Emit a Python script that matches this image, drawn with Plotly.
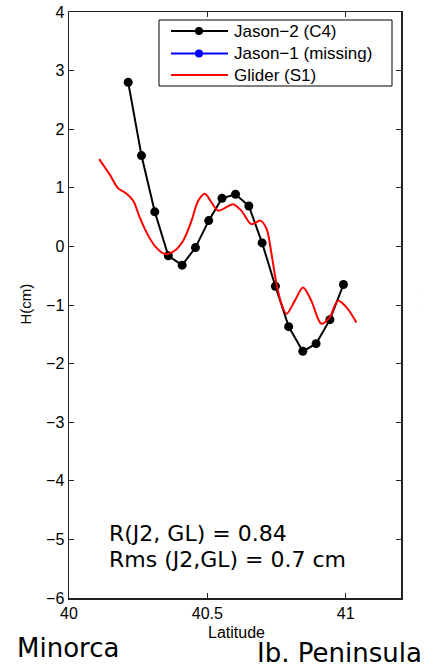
import plotly.graph_objects as go

# Jason-2 (C4) along-track points
j2_lat = [40.214, 40.262, 40.310, 40.359, 40.409, 40.457, 40.505, 40.553, 40.602,
          40.650, 40.698, 40.746, 40.794, 40.845, 40.893, 40.943, 40.992]
j2_h = [2.80, 1.55, 0.59, -0.16, -0.32, -0.02, 0.44, 0.82, 0.89,
        0.69, 0.06, -0.68, -1.37, -1.79, -1.66, -1.25, -0.65]

# Glider (S1) profile
gl_lat = [40.109, 40.148, 40.178, 40.208, 40.232, 40.256, 40.280, 40.310, 40.347,
          40.383, 40.413, 40.443, 40.467, 40.491, 40.515, 40.539, 40.569, 40.593,
          40.623, 40.659, 40.692, 40.714, 40.732, 40.750, 40.768, 40.786, 40.816,
          40.846, 40.876, 40.912, 40.942, 40.972, 41.003, 41.039]
gl_h = [1.49, 1.22, 0.99, 0.90, 0.78, 0.49, 0.24, 0.01, -0.13,
        -0.07, 0.10, 0.44, 0.78, 0.90, 0.75, 0.61, 0.67, 0.72,
        0.61, 0.38, 0.44, 0.30, -0.13, -0.64, -0.98, -1.15, -0.93,
        -0.70, -0.93, -1.32, -1.21, -0.93, -1.04, -1.30]

x_ticks = [40, 40.5, 41]
x_tick_text = ["40", "40.5", "41"]
y_ticks = [-6, -5, -4, -3, -2, -1, 0, 1, 2, 3, 4]

legend_names = ["Jason\u22122 (C4)", "Jason\u22121 (missing)", "Glider (S1)"]
legend_colors = ["#000000", "#0000ff", "#ff0000"]
legend_markers = [True, True, False]

# plot area spans page x 69..401, y 12..598
def px(sx):
    return (sx - 69) / 332.0


def py(sy):
    return (598 - sy) / 586.0


fig = go.Figure()
fig.add_trace(go.Scatter(x=j2_lat, y=j2_h, mode="lines+markers", name=legend_names[0],
                         line=dict(color=legend_colors[0], width=2),
                         marker=dict(color=legend_colors[0], size=9)))
fig.add_trace(go.Scatter(x=[None], y=[None], mode="lines+markers", name=legend_names[1],
                         line=dict(color=legend_colors[1], width=2),
                         marker=dict(color=legend_colors[1], size=9)))
fig.add_trace(go.Scatter(x=gl_lat, y=gl_h, mode="lines", name=legend_names[2],
                         line=dict(color=legend_colors[2], width=2, shape="spline", smoothing=0.9)))

axis_font = dict(family="Liberation Sans, Arial, sans-serif", size=16, color="#000000")
fig.update_xaxes(range=[40, 41.2], tickvals=x_ticks, ticktext=x_tick_text,
                 ticks="inside", ticklen=5, tickcolor="#222222", mirror="allticks",
                 showline=True, linecolor="#222222", linewidth=1.5, automargin=False,
                 showgrid=False, zeroline=False, tickfont=axis_font)
fig.update_yaxes(range=[-6, 4], tickvals=y_ticks,
                 ticks="inside", ticklen=5, tickcolor="#222222", mirror="allticks",
                 showline=True, linecolor="#222222", linewidth=1.5, automargin=False,
                 showgrid=False, zeroline=False, tickfont=axis_font)

txt_font = dict(family="DejaVu Sans, Verdana, sans-serif", color="#000000")
lab_font = dict(family="Liberation Sans, Arial, sans-serif", color="#000000")

# legend drawn as a boxed key (MATLAB style)
shapes = [dict(type="rect", xref="paper", yref="paper", x0=px(159), x1=px(392),
               y0=py(86), y1=py(20), line=dict(color="#000000", width=1),
               fillcolor="#ffffff", layer="above")]
annotations = []
row_y = [31, 53.5, 75]
for name, col, mk, ry in zip(legend_names, legend_colors, legend_markers, row_y):
    shapes.append(dict(type="line", xref="paper", yref="paper", x0=px(171), x1=px(228),
                       y0=py(ry), y1=py(ry), line=dict(color=col, width=2), layer="above"))
    if mk:
        shapes.append(dict(type="circle", xref="paper", yref="paper", x0=px(195), x1=px(203),
                           y0=py(ry + 4), y1=py(ry - 4), line=dict(color=col, width=0),
                           fillcolor=col, layer="above"))
    annotations.append(dict(text=name, xref="paper", yref="paper", x=px(232), y=py(ry),
                            xanchor="left", yanchor="middle", showarrow=False,
                            font=dict(size=17, **lab_font)))

annotations += [
    dict(text="R(J2, GL) = 0.84", xref="paper", yref="paper",
         x=px(107), y=py(533), xanchor="left", yanchor="middle",
         showarrow=False, font=dict(size=22, **txt_font)),
    dict(text="Rms (J2,GL) = 0.7 cm", xref="paper", yref="paper",
         x=px(107), y=py(559), xanchor="left", yanchor="middle",
         showarrow=False, font=dict(size=22, **txt_font)),
    dict(text="Latitude", xref="paper", yref="paper", x=px(236), y=py(633),
         xanchor="center", yanchor="middle", showarrow=False,
         font=dict(size=16, **lab_font)),
    dict(text="H(cm)", xref="paper", yref="paper", x=px(24.5), y=py(304),
         xanchor="center", yanchor="middle", textangle=-90, showarrow=False,
         font=dict(size=15, **lab_font)),
    dict(text="H(cm)", xref="paper", yref="paper", x=px(429), y=py(305),
         xanchor="center", yanchor="middle", textangle=-90, showarrow=False,
         font=dict(size=15, **lab_font)),
    dict(text="Minorca", xref="paper", yref="paper", x=px(15), y=py(648),
         xanchor="left", yanchor="middle", showarrow=False,
         font=dict(size=26, **txt_font)),
    dict(text="Ib. Peninsula", xref="paper", yref="paper", x=px(255), y=py(653),
         xanchor="left", yanchor="middle", showarrow=False,
         font=dict(size=26, **txt_font)),
]

fig.update_layout(
    width=424, height=664,
    margin=dict(l=69, r=23, t=12, b=66, autoexpand=False),
    paper_bgcolor="#ffffff", plot_bgcolor="#ffffff",
    showlegend=False,
    hovermode=False,
    shapes=shapes,
    annotations=annotations,
)

fig.write_html("out.html", config={"displayModeBar": False, "staticPlot": True},
               post_script="document.body.style.margin='0px';")
